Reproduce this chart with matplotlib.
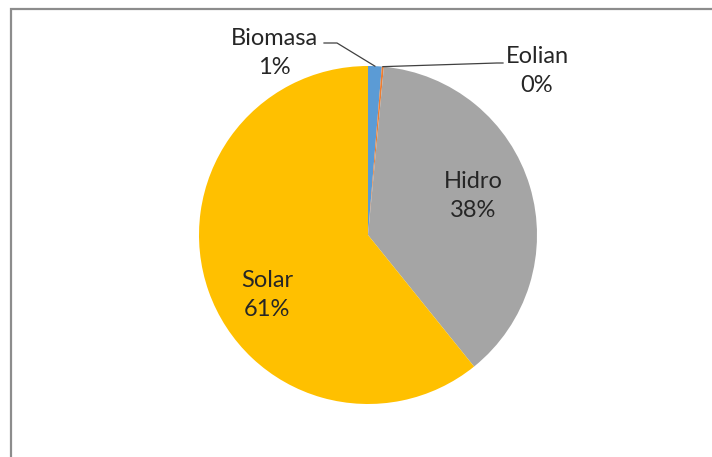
import numpy as np
import matplotlib
matplotlib.use("Agg")
import matplotlib.pyplot as plt
from matplotlib.patches import Rectangle

categories = ["Biomasa", "Eolian", "Hidro", "Solar"]
values = [1.3, 0.2, 37.7, 60.8]
pct_labels = ["1%", "0%", "38%", "61%"]
colors = ["#5B9BD5", "#ED7D31", "#A5A5A5", "#FFC000"]

W, H = 712, 457
fig = plt.figure(figsize=(W / 100, H / 100), dpi=100)
ax = fig.add_axes([0, 0, 1, 1])

def Y(y):
    return H - y

cx, cy, r = 368, 235, 169
wedges, _ = ax.pie(values, colors=colors, startangle=90, counterclock=False,
                   center=(cx, Y(cy)), radius=r,
                   wedgeprops=dict(linewidth=0))
ax.set_xlim(0, W)
ax.set_ylim(0, H)
ax.set_aspect("auto")
ax.axis("off")

# outer frame
ax.add_patch(Rectangle((10.5, -20), W + 20, Y(8.5) + 20, fill=False,
                       edgecolor="#8C8C8C", linewidth=1.6, clip_on=False))

font = dict(family=["Lato", "DejaVu Sans"], fontsize=17, color="#262626",
            ha="center", va="center", linespacing=1.45)

def edge_point(w):
    th = np.deg2rad((w.theta1 + w.theta2) / 2)
    return cx + r * np.cos(th), Y(cy) + r * np.sin(th)

# inside labels
ax.text(473, Y(196), f"{categories[2]}\n{pct_labels[2]}", **font)
ax.text(267, Y(295), f"{categories[3]}\n{pct_labels[3]}", **font)

# outside labels with leader lines
ax.text(274, Y(53), f"{categories[0]}\n{pct_labels[0]}", **font)
ax.text(537, Y(71), f"{categories[1]}\n{pct_labels[1]}", **font)

bx, by = edge_point(wedges[0])
ax.plot([324, 337, bx], [Y(43), Y(43), by], color="#404040", lw=0.9)
ex, ey = edge_point(wedges[1])
ax.plot([ex, 497, 503], [ey, Y(63), Y(63)], color="#404040", lw=0.9)

fig.savefig("out.png", dpi=100)
